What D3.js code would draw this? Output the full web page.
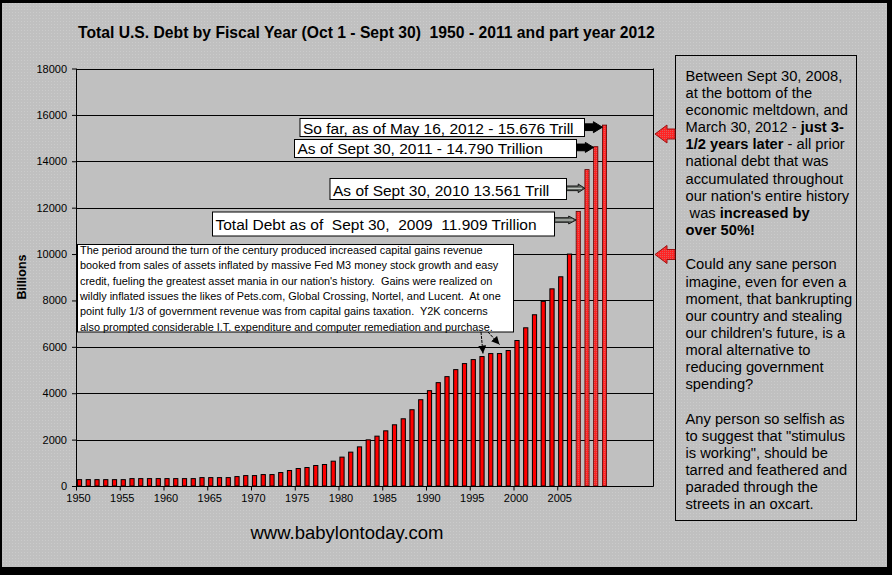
<!DOCTYPE html>
<html>
<head>
<meta charset="utf-8">
<script src="https://cdn.jsdelivr.net/npm/d3@7"></script>
<style>
body { margin: 0; background: #000; }
svg text { font-family: "Liberation Sans", Arial, sans-serif; fill: #000; }
</style>
</head>
<body>
<svg id="chart" width="892" height="575"></svg>
<script>
// categories as they are printed on the axis
var years = [1950, 1951, 1952, 1953, 1954, 1955, 1956, 1957, 1958, 1959,
             1960, 1961, 1962, 1963, 1964, 1965, 1966, 1967, 1968, 1969,
             1970, 1971, 1972, 1973, 1974, 1975, 1976, 1977, 1978, 1979,
             1980, 1981, 1982, 1983, 1984, 1985, 1986, 1987, 1988, 1989,
             1990, 1991, 1992, 1993, 1994, 1995, 1996, 1997, 1998, 1999,
             2000, 2001, 2002, 2003, 2004, 2005, 2006, 2007, 2008, 2009, 2010];
// debt in billions
var debt = [275, 275, 275, 275, 275, 275, 319, 319, 319, 319,
            319, 319, 319, 319, 362, 362, 362, 362, 406, 449,
            449, 493, 493, 580, 667, 753, 797, 884, 927, 1070,
            1245, 1460, 1687, 1990, 2149, 2379, 2639, 2898, 3288, 3720,
            4110, 4456, 4715, 5018, 5278, 5451, 5581, 5710, 5710, 5840,
            6273, 6821, 7383, 7960, 8500, 9020, 10000, 11840, 13640, 14630, 15560];
// the last four bars are drawn hatched
var hatchedYears = [2007, 2008, 2009, 2010];
var yTicks = [0, 2000, 4000, 6000, 8000, 10000, 12000, 14000, 16000, 18000];
var xTicks = [1950, 1955, 1960, 1965, 1970, 1975, 1980, 1985, 1990, 1995, 2000, 2005];

var callouts = [
    { text: "So far, as of May 16, 2012 - 15.676 Trill", year: 2010, box: [300, 118.5, 584.5, 136.5], base: 15, ay: 127.2, shaft: 6.7, head: 11, headL: 9, dark: true },
    { text: "As of Sept 30, 2011 - 14.790 Trillion", year: 2009, box: [294.5, 139.5, 576.5, 157.5], base: 14.7, ay: 147.4, shaft: 6.7, head: 10, headL: 8.3, dark: true },
    { text: "As of Sept 30, 2010 13.561 Trill", year: 2008, box: [330, 178.5, 566.5, 199.5], base: 17, ay: 188.3, shaft: 4.7, head: 8.7, headL: 6.7, dark: false },
    { text: "Total Debt as of  Sept 30,  2009  11.909 Trillion", year: 2007, box: [212.5, 212, 554.5, 236], base: 18, ay: 220, shaft: 4.7, head: 8, headL: 7.5, dark: false }
];

var noteLines = [
    "The period around the turn of the century produced increased capital gains revenue",
    "booked from sales of assets inflated by massive Fed M3 money stock growth and easy",
    "credit, fueling the greatest asset mania in our nation's history.  Gains were realized on",
    "wildly inflated issues the likes of Pets.com, Global Crossing, Nortel, and Lucent.  At one",
    "point fully 1/3 of government revenue was from capital gains taxation.  Y2K concerns",
    "also prompted considerable I.T. expenditure and computer remediation and purchase."
];

// side text, [text, bold]
var sideLines = [
    [["Between Sept 30, 2008,", 0]],
    [["at the bottom of the", 0]],
    [["economic meltdown, and", 0]],
    [["March 30, 2012 - ", 0], ["just 3-", 1]],
    [["1/2 years later", 1], [" - all prior", 0]],
    [["national debt that was", 0]],
    [["accumulated throughout", 0]],
    [["our nation's entire history", 0]],
    [[" was ", 0], ["increased by", 1]],
    [["over 50%!", 1]],
    [],
    [["Could any sane person", 0]],
    [["imagine, even for even a", 0]],
    [["moment, that bankrupting", 0]],
    [["our country and stealing", 0]],
    [["our children's future, is a", 0]],
    [["moral alternative to", 0]],
    [["reducing government", 0]],
    [["spending?", 0]],
    [],
    [["Any person so selfish as", 0]],
    [["to suggest that \"stimulus", 0]],
    [["is working\", should be", 0]],
    [["tarred and feathered and", 0]],
    [["paraded through the", 0]],
    [["streets in an oxcart.", 0]]
];

var svg = d3.select("#chart");
var plot = { left: 76, right: 653.5, top: 68.5, bottom: 486 };

var defs = svg.append("defs");
var bgPat = defs.append("pattern").attr("id", "bgdots")
    .attr("width", 3).attr("height", 3).attr("patternUnits", "userSpaceOnUse");
bgPat.append("rect").attr("width", 3).attr("height", 3).attr("fill", "#c0c0c0");
bgPat.append("rect").attr("width", 1).attr("height", 1).attr("fill", "#cbcbcb");

var hatch = defs.append("pattern").attr("id", "hatch")
    .attr("width", 2).attr("height", 2).attr("patternUnits", "userSpaceOnUse");
hatch.append("rect").attr("width", 2).attr("height", 2).attr("fill", "#ff2424");
hatch.append("rect").attr("width", 1).attr("height", 1).attr("fill", "#e05a5a");

defs.append("marker").attr("id", "tip")
    .attr("viewBox", "0 0 10 10").attr("refX", 10).attr("refY", 5)
    .attr("markerUnits", "userSpaceOnUse")
    .attr("markerWidth", 8).attr("markerHeight", 8).attr("orient", "auto")
  .append("path").attr("d", "M0,0L10,5L0,10z").attr("fill", "#000");

// frame
svg.append("rect").attr("width", 892).attr("height", 575).attr("fill", "#000");
svg.append("rect").attr("x", 2).attr("y", 3).attr("width", 885).attr("height", 564)
    .attr("fill", "url(#bgdots)");
svg.append("rect").attr("x", plot.left).attr("y", plot.top)
    .attr("width", plot.right - plot.left).attr("height", plot.bottom - plot.top)
    .attr("fill", "#c0c0c0");

var x = d3.scaleLinear().domain([1950, 2016]).range([plot.left, plot.right]);
var y = d3.scaleLinear().domain([0, 18000]).range([plot.bottom, plot.top]);
var step = x(1951) - x(1950);
var barW = step * 0.48;

// gridlines + y labels
var yAxis = svg.append("g").attr("transform", "translate(" + plot.left + ",0)")
    .call(d3.axisLeft(y).tickValues(yTicks).tickFormat(d3.format("d"))
        .tickSize(4).tickSizeOuter(0).tickPadding(5));
yAxis.select(".domain").remove();
yAxis.selectAll("text").attr("font-size", "11px").attr("fill", "#000")
    .style("font-family", "'Liberation Sans', Arial, sans-serif");
yAxis.selectAll("line").attr("stroke", "#000");

svg.append("g").selectAll("line").data(yTicks).join("line")
    .attr("x1", plot.left).attr("x2", plot.right)
    .attr("y1", function(d) { return Math.round(y(d)) + 0.5; })
    .attr("y2", function(d) { return Math.round(y(d)) + 0.5; })
    .attr("stroke", "#000");
svg.append("line").attr("x1", plot.right).attr("x2", plot.right)
    .attr("y1", plot.top).attr("y2", plot.bottom).attr("stroke", "#000");
svg.append("line").attr("x1", plot.left + 0.5).attr("x2", plot.left + 0.5)
    .attr("y1", plot.top).attr("y2", plot.bottom + 1).attr("stroke", "#000");

// bars
var rows = years.map(function(yr, i) { return { year: yr, value: debt[i] }; });
svg.append("g").selectAll("rect").data(rows).join("rect")
    .attr("x", function(d) { return x(d.year) + step * 0.16; })
    .attr("y", function(d) { return y(d.value); })
    .attr("width", barW)
    .attr("height", function(d) { return y(0) - y(d.value); })
    .attr("fill", function(d) { return hatchedYears.indexOf(d.year) >= 0 ? "url(#hatch)" : "#ff0000"; })
    .attr("stroke", function(d) { return hatchedYears.indexOf(d.year) >= 0 ? "#5a0000" : "#000"; })
    .attr("stroke-width", function(d) { return hatchedYears.indexOf(d.year) >= 0 ? 0.8 : 1; });

// x axis
var xAxis = svg.append("g").attr("transform", "translate(0," + (Math.round(plot.bottom) + 0.5) + ")")
    .call(d3.axisBottom(x).tickValues(xTicks).tickFormat(d3.format("d")).tickSize(4).tickSizeOuter(0).tickPadding(4));
xAxis.select(".domain").attr("d", "M" + plot.left + ",0H" + plot.right).attr("stroke", "#000");
xAxis.selectAll("text").attr("font-size", "11px").attr("fill", "#000").attr("dx", 2)
    .style("font-family", "'Liberation Sans', Arial, sans-serif");
xAxis.selectAll("line").attr("stroke", "#000");

// titles
svg.append("text").attr("x", 78).attr("y", 37.5)
    .attr("font-size", "15.7px").attr("font-weight", "bold")
    .style("white-space", "pre")
    .text("Total U.S. Debt by Fiscal Year (Oct 1 - Sept 30)  1950 - 2011 and part year 2012");
svg.append("text").attr("transform", "translate(26,277) rotate(-90)")
    .attr("text-anchor", "middle").attr("font-size", "12.5px").attr("font-weight", "bold")
    .text("Billions");
svg.append("text").attr("x", 347).attr("y", 539).attr("text-anchor", "middle")
    .attr("font-size", "18.5px").text("www.babylontoday.com");

// the long note and its two pointers
svg.append("rect").attr("x", 77.5).attr("y", 244.5).attr("width", 436).attr("height", 87.5)
    .attr("fill", "#fff").attr("stroke", "#000");
svg.append("g").selectAll("text").data(noteLines).join("text")
    .attr("x", 80).attr("y", function(d, i) { return 254 + i * 15.3; })
    .attr("font-size", "10.9px").style("white-space", "pre")
    .text(function(d) { return d; });

function barTop(yr) {
    var i = years.indexOf(yr);
    return { x: x(yr) + step * 0.16 + barW / 2, y: y(debt[i]) };
}
var p1 = barTop(1996), p2 = barTop(1998);
svg.append("line").attr("x1", 481).attr("y1", 332).attr("x2", p1.x + 1).attr("y2", p1.y - 3)
    .attr("stroke", "#000").attr("stroke-dasharray", "3,1").attr("marker-end", "url(#tip)");
svg.append("line").attr("x1", 488).attr("y1", 332).attr("x2", p2.x).attr("y2", p2.y - 9)
    .attr("stroke", "#000").attr("stroke-dasharray", "3,1").attr("marker-end", "url(#tip)");

// block arrow pointing right from x0 to tip
function blockArrow(x0, tip, yc, sh, hh, hl) {
    return "M" + x0 + "," + (yc - sh / 2) + "H" + (tip - hl) + "V" + (yc - hh / 2) +
        "L" + tip + "," + yc + "L" + (tip - hl) + "," + (yc + hh / 2) +
        "V" + (yc + sh / 2) + "H" + x0 + "Z";
}

callouts.forEach(function(c) {
    var tipX = x(c.year) + step * 0.16;
    svg.append("path")
        .attr("d", blockArrow(c.box[2], tipX, c.ay, c.shaft, c.head, c.headL))
        .attr("fill", c.dark ? "#000" : "#5a5f5a")
        .attr("stroke", "#000").attr("stroke-width", c.dark ? 1 : 0.8);
    if (!c.dark) {
        svg.append("line").attr("x1", c.box[2] + 1).attr("x2", tipX - 3)
            .attr("y1", c.ay).attr("y2", c.ay)
            .attr("stroke", "#d8ddd8").attr("stroke-width", 1);
    }
    svg.append("rect").attr("x", c.box[0]).attr("y", c.box[1])
        .attr("width", c.box[2] - c.box[0]).attr("height", c.box[3] - c.box[1])
        .attr("fill", "#fff").attr("stroke", "#000");
    svg.append("text").attr("x", c.box[0] + 3).attr("y", c.box[1] + c.base)
        .attr("font-size", "15.5px").style("white-space", "pre").text(c.text);
});

// side box
svg.append("rect").attr("x", 675.5).attr("y", 55.5).attr("width", 181).attr("height", 465)
    .attr("fill", "none").attr("stroke", "#000");
var side = svg.append("g");
sideLines.forEach(function(parts, i) {
    var t = side.append("text").attr("x", 685.5).attr("y", 80.7 + i * 17.15)
        .attr("font-size", "14.7px").style("white-space", "pre");
    parts.forEach(function(p) {
        t.append("tspan").attr("font-weight", p[1] ? "bold" : null).text(p[0]);
    });
});

// red arrows pointing at the side box
[134, 254.5].forEach(function(yc) {
    svg.append("path").attr("d", function() {
        return "M675," + (yc - 5) + "H667V" + (yc - 9) + "L655," + yc + "L667," + (yc + 9) +
            "V" + (yc + 5) + "H675Z";
    }).attr("fill", "url(#hatch)").attr("stroke", "#a01010");
});
</script>
</body>
</html>
